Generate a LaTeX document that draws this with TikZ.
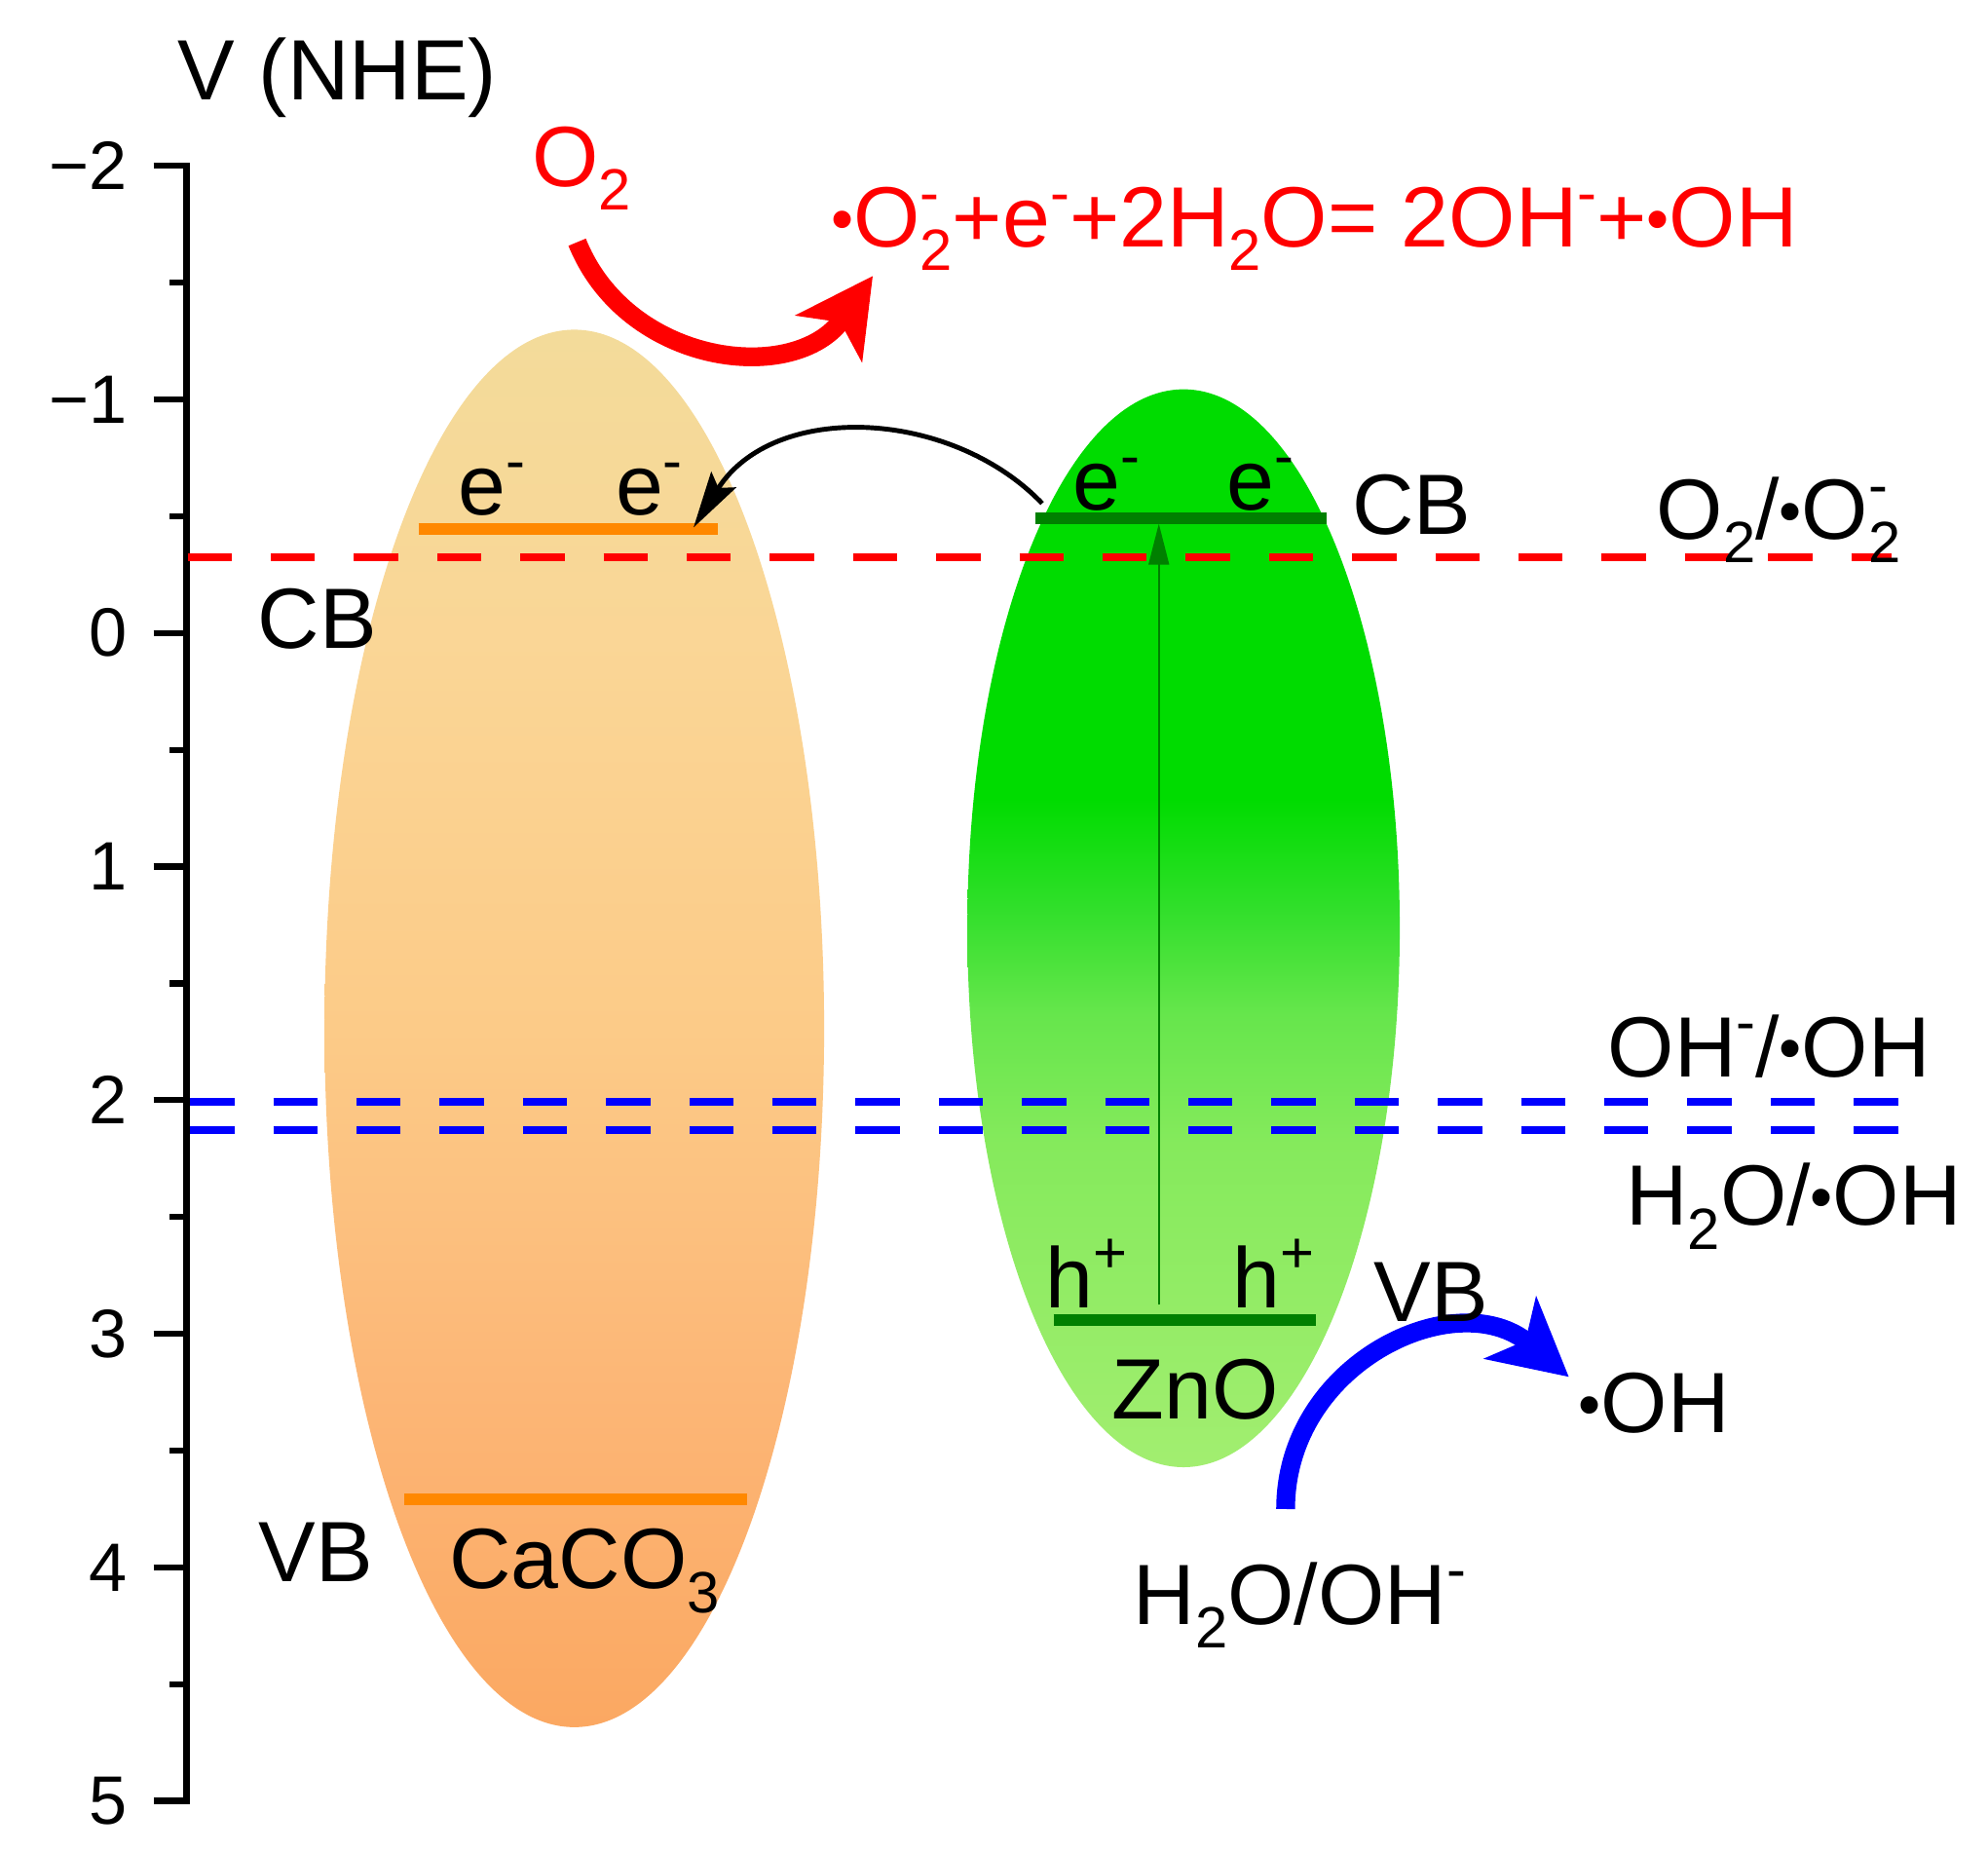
\documentclass[tikz,border=0pt]{standalone}
\usepackage{fontspec}
\setmainfont{Liberation Sans}
\usepackage{tikz}
\usetikzlibrary{arrows.meta}

\definecolor{cacotop}{HTML}{F3DB9A}
\definecolor{cacoup}{HTML}{FAD696}
\definecolor{cacomid}{HTML}{FCCB88}
\definecolor{cacolow}{HTML}{FCB676}
\definecolor{cacobot}{HTML}{FBA862}
\definecolor{znotop}{HTML}{00DC00}
\definecolor{znoup}{HTML}{30DF2A}
\definecolor{znomid}{HTML}{66E64C}
\definecolor{znolow}{HTML}{85EA5C}
\definecolor{znobot}{HTML}{A2EE70}
\definecolor{cacoorange}{HTML}{FF8800}
\definecolor{znogreen}{HTML}{008000}

\pgfdeclareverticalshading{cacoshade}{100bp}{color(0bp)=(cacobot); color(25bp)=(cacobot); color(37bp)=(cacolow); color(50bp)=(cacomid); color(64bp)=(cacoup); color(75bp)=(cacotop); color(100bp)=(cacotop)}
\pgfdeclareverticalshading{znoshade}{100bp}{color(0bp)=(znobot); color(25bp)=(znobot); color(40bp)=(znolow); color(46bp)=(znomid); color(51bp)=(znoup); color(56bp)=(znotop); color(100bp)=(znotop)}

% raised / lowered charges and indices, radical dot
\newcommand{\chup}[1]{\raisebox{0.4em}{\scalebox{0.68}{#1}}}
\newcommand{\chdn}[1]{\raisebox{-0.28em}{\scalebox{0.68}{#1}}}
\newcommand{\chud}[2]{\rlap{\chup{#1}}\chdn{#2}}
\newcommand{\chrad}{\raisebox{0.07em}{\scalebox{0.75}{•}}}

\begin{document}
\begin{tikzpicture}[x=0.13017mm,y=-0.13017mm]

\tikzstyle{lbl} = [inner sep=0pt, anchor=base west, font=\fontsize{25}{30}\selectfont]
\tikzstyle{ticklbl} = [inner sep=0pt, anchor=east, font=\fontsize{20}{24}\selectfont]
\tikzstyle{redox} = [line width=2.4pt, dash pattern=on 12.9pt off 11.4pt]
\tikzstyle{band} = [line width=3.4pt]
\tikzstyle{bigarrow} = [line width=5.5pt, -{Stealth[length=7.8mm,width=8.2mm,inset=2mm]}]

\useasboundingbox[fill=white] (0,0) rectangle (1568,1459);

% energy axis
\draw[line width=1.8pt] (121,130.6) -- (147,130.6) -- (147,1420) -- (121,1420);
\foreach \v in {-1,0,...,4} \draw[line width=1.8pt] (121,{499.2+184.2*\v}) -- (147,{499.2+184.2*\v});
\foreach \v in {-1.5,-0.5,...,4.5} \draw[line width=1.8pt] (134,{499.2+184.2*\v}) -- (147,{499.2+184.2*\v});
\foreach \v/\t in {-2/−2,-1/−1,0/0,1/1,2/2,3/3,4/4,5/5}
  \node[ticklbl] (tick\v) at (101,{499.2+184.2*\v}) {\t};

% the two semiconductors
\shade[shading=cacoshade] (453,811) ellipse [x radius=197, y radius=551];
\shade[shading=znoshade] (933.5,732) ellipse [x radius=170.5, y radius=425];

% redox potentials
\draw[redox, red] (148,439.6) -- (1492,439.6);
\draw[redox, blue] (150,869) -- (1499,869);
\draw[redox, blue] (150,891) -- (1499,891);

% band edges
\draw[band, cacoorange] (330,417) -- (566,417);
\draw[band, cacoorange] (319,1182.5) -- (589,1182.5);
\draw[band, znogreen] (817,408.5) -- (1046,408.5);
\draw[band, znogreen] (831,1041) -- (1038,1041);

\coordinate (znoe) at (822,397);
\coordinate (cacoe) at (547,416);
\coordinate (znoh) at (914,1029);
\coordinate (znocb) at (914,413);
\coordinate (o2tail) at (455.2,191);
\coordinate (o2tip) at (688.4,217.6);
\coordinate (ohtail) at (1014,1190);
\coordinate (ohtip) at (1237.4,1085.8);

\draw[line width=1.4pt, -{Stealth[length=5.8mm,width=3mm,inset=1mm]}] (znoe) .. controls +(-72,-75) and +(63,-100) .. (cacoe);
\draw[znogreen, line width=0.5pt, -{Triangle[length=4.2mm,width=2.1mm]}] (znoh) -- (znocb);
\draw[bigarrow, red] (o2tail) .. controls +(39.7,98.2) and +(-60.8,86.7) .. (o2tip);
\draw[bigarrow, blue] (ohtail) .. controls +(0,-115.5) and +(-88.5,-74.2) .. (ohtip);

% labels
\node[lbl] (vnhe) at (140,79) {V (NHE)};
\node[lbl, red] (o2) at (419,147) {O\chdn{2}};
\node[lbl, red] (reaction) at (655,194.5) {\chrad O\chud{-}{2}+e\chup{-}+2H\chdn{2}O= 2OH\chup{-}+\chrad OH};
\node[lbl] (cacoe1) at (361,406) {e\chup{-}};
\node[lbl] (cacoe2) at (485,406) {e\chup{-}};
\node[lbl] (cacocb) at (203,511) {CB};
\node[lbl] (cacovb) at (203.5,1247) {VB};
\node[lbl] (caco) at (354,1253) {CaCO\chdn{3}};
\node[lbl] (znoe1) at (846,402) {e\chup{-}};
\node[lbl] (znoe2) at (967,402) {e\chup{-}};
\node[lbl] (znocblbl) at (1066,421) {CB};
\node[lbl] (o2pot) at (1306,425) {O\chdn{2}/\chrad O\chud{-}{2}};
\node[lbl] (znoh1) at (824,1031) {h\chup{+}};
\node[lbl] (znoh2) at (972,1031) {h\chup{+}};
\node[lbl] (znovblbl) at (1083,1042.5) {VB};
\node[lbl] (zno) at (876.6,1119) {ZnO};
\node[lbl] (ohpot) at (1267.6,849) {OH\chup{-}/\chrad OH};
\node[lbl] (h2opot) at (1282,966) {H\chdn{2}O/\chrad OH};
\node[lbl] (oh) at (1244.6,1130) {\chrad OH};
\node[lbl] (h2o) at (893.6,1280.7) {H\chdn{2}O/OH\chup{-}};

\end{tikzpicture}
\end{document}
